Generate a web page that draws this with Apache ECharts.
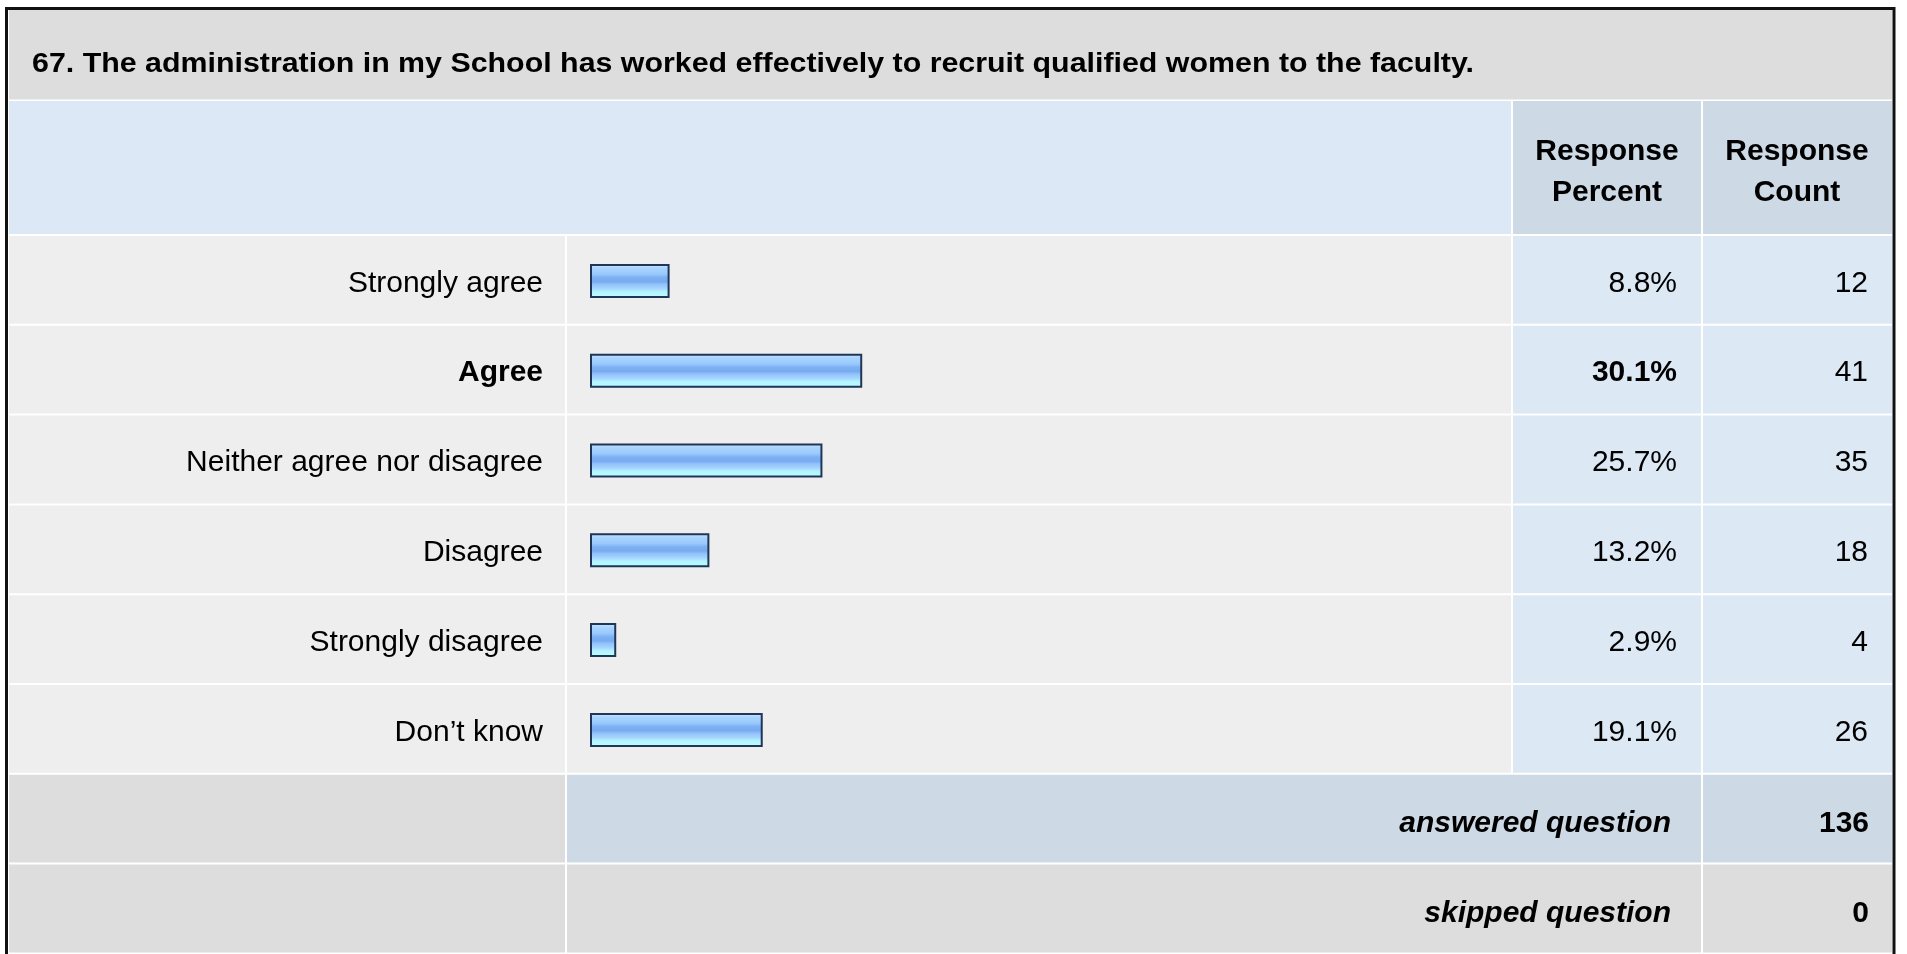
<!DOCTYPE html>
<html>
<head>
<meta charset="utf-8">
<style>
  html, body { margin: 0; padding: 0; background: #ffffff; }
  #chart { width: 1907px; height: 954px; }
</style>
<script src="https://cdn.jsdelivr.net/npm/echarts@6/dist/echarts.min.js"></script>
</head>
<body>
<div id="chart"></div>
<script>
// ---- data ----
const titleText = '67. The administration in my School has worked effectively to recruit qualified women to the faculty.';
const categories = ['Strongly agree', 'Agree', 'Neither agree nor disagree', 'Disagree', 'Strongly disagree', 'Don\u2019t know'];
const percents = [8.8, 30.1, 25.7, 13.2, 2.9, 19.1];
const counts = [12, 41, 35, 18, 4, 26];
const headerLabels = ['Response\nPercent', 'Response\nCount'];
const totalLabels = ['answered question', 'skipped question'];
const totalValues = [136, 0];

// ---- layout ----
const FONT = '"Liberation Sans", Arial, Helvetica, sans-serif';
const TXT = '#000';
const L = 9, R = 1892;
const colLabelEnd = 566, colBarEnd = 1512, colPctEnd = 1702;
const rowTop = 235, rowH = 89.8;
const nRows = categories.length;
const maxIdx = percents.indexOf(Math.max.apply(null, percents));

function rect(x1, y1, x2, y2, fill, z) {
  return { type: 'rect', z: z || 0, silent: true,
    shape: { x: x1, y: y1, width: x2 - x1, height: y2 - y1 }, style: { fill: fill } };
}
function txt(x, y, text, opt) {
  opt = opt || {};
  return { type: 'text', z: 20, silent: true, x: x, y: y, scaleX: opt.scaleX || 1,
    style: { text: text, x: 0, y: 0, fill: TXT, fontFamily: FONT,
      fontSize: opt.fontSize || 30, fontWeight: opt.fontWeight || 'normal',
      fontStyle: opt.fontStyle || 'normal',
      align: opt.align || 'left', textAlign: opt.align || 'left',
      verticalAlign: 'middle', textVerticalAlign: 'middle',
      lineHeight: opt.lineHeight || undefined } };
}

const g = [];
// title band
g.push(rect(L, 10, R, 99.5, '#dddddd'));
// header band
g.push(rect(L, 101, colBarEnd - 1, rowTop - 1, '#dce8f5'));
g.push(rect(colBarEnd + 1, 101, colPctEnd - 1, rowTop - 1, '#cdd9e5'));
g.push(rect(colPctEnd + 1, 101, R, rowTop - 1, '#cdd9e5'));
// data rows
for (let i = 0; i < nRows; i++) {
  const y1 = rowTop + i * rowH + 1, y2 = rowTop + (i + 1) * rowH - 1;
  g.push(rect(L, y1, colLabelEnd - 1, y2, '#eeeeee'));
  g.push(rect(colLabelEnd + 1, y1, colBarEnd - 1, y2, '#eeeeee'));
  g.push(rect(colBarEnd + 1, y1, colPctEnd - 1, y2, '#dde8f5'));
  g.push(rect(colPctEnd + 1, y1, R, y2, '#dde8f5'));
}
// totals rows
const totColors = [['#dddddd', '#cdd9e5', '#cdd9e5'], ['#dddddd', '#dddddd', '#dddddd']];
for (let j = 0; j < 2; j++) {
  const y1 = rowTop + (nRows + j) * rowH + 1, y2 = rowTop + (nRows + j + 1) * rowH - 1;
  g.push(rect(L, y1, colLabelEnd - 1, y2, totColors[j][0]));
  g.push(rect(colLabelEnd + 1, y1, colPctEnd - 1, y2, totColors[j][1]));
  g.push(rect(colPctEnd + 1, y1, R, y2, totColors[j][2]));
  const cy = (y1 + y2) / 2 + 5;
  g.push(txt(1671, cy, totalLabels[j], { align: 'right', fontWeight: 'bold', fontStyle: 'italic' }));
  g.push(txt(1869, cy, String(totalValues[j]), { align: 'right', fontWeight: 'bold' }));
}
// outer border
g.push({ type: 'rect', z: 30, silent: true, shape: { x: 6.5, y: 8.5, width: 1887.5, height: 960 },
  style: { fill: null, stroke: '#111', lineWidth: 3 } });

// title text, stretched to the reference width
const cv = document.createElement('canvas').getContext('2d');
cv.font = 'bold 28px ' + FONT;
const natW = cv.measureText(titleText).width;
const titleScale = 1442 / natW;
g.push(txt(32, 64, titleText, { fontSize: 28, fontWeight: 'bold', scaleX: titleScale }));
// header texts
g.push(txt((colBarEnd + colPctEnd) / 2, 172, headerLabels[0], { align: 'center', fontWeight: 'bold', lineHeight: 41 }));
g.push(txt((colPctEnd + R) / 2, 172, headerLabels[1], { align: 'center', fontWeight: 'bold', lineHeight: 41 }));

const gridLeft = 590, gridW = 904.4;
const boldRich = { b: { fontFamily: FONT, fontSize: 30, fontWeight: 'bold', color: TXT },
                   n: { fontFamily: FONT, fontSize: 30, fontWeight: 'normal', color: TXT } };
const labelPad = [5, 0, 0, 0];
const wrap = (s, bold) => bold ? '{b|' + s + '}' : '{n|' + s + '}';

const chart = echarts.init(document.getElementById('chart'), null, { renderer: 'canvas' });
chart.setOption({
  animation: false,
  backgroundColor: '#ffffff',
  grid: { left: gridLeft, top: rowTop + 1, width: gridW, height: nRows * rowH, containLabel: false },
  xAxis: { type: 'value', min: 0, max: 100, show: false },
  yAxis: [
    { type: 'category', data: categories, inverse: true, z: 15,
      axisLine: { show: false }, axisTick: { show: false }, splitLine: { show: false },
      axisLabel: { fontFamily: FONT, fontSize: 30, color: TXT, margin: 47, padding: labelPad,
        formatter: (v, i) => wrap(v, i === maxIdx), rich: boldRich } },
    { type: 'category', data: categories, inverse: true, position: 'right', z: 15,
      axisLine: { show: false }, axisTick: { show: false }, splitLine: { show: false },
      axisLabel: { fontFamily: FONT, fontSize: 30, color: TXT, margin: 1677 - (gridLeft + gridW), align: 'right', padding: labelPad,
        formatter: (v, i) => wrap(percents[i].toFixed(1) + '%', i === maxIdx), rich: boldRich } },
    { type: 'category', data: categories, inverse: true, position: 'right', z: 15,
      axisLine: { show: false }, axisTick: { show: false }, splitLine: { show: false },
      axisLabel: { fontFamily: FONT, fontSize: 30, color: TXT, margin: 1868 - (gridLeft + gridW), align: 'right', padding: labelPad,
        formatter: (v, i) => wrap(String(counts[i]), false), rich: boldRich } }
  ],
  graphic: { elements: g },
  series: [{
    type: 'bar', data: percents, barWidth: 34, z: 10, silent: true,
    itemStyle: {
      borderColor: '#1f3658', borderWidth: 2,
      color: new echarts.graphic.LinearGradient(0, 0, 0, 1, [
        { offset: 0, color: '#d2e8ff' },
        { offset: 0.12, color: '#aad4ff' },
        { offset: 0.3, color: '#99c9fd' },
        { offset: 0.4, color: '#7eb1f3' },
        { offset: 0.52, color: '#78aaf0' },
        { offset: 0.6, color: '#92c2fa' },
        { offset: 0.72, color: '#a4d4ff' },
        { offset: 0.82, color: '#b4f4ff' },
        { offset: 1, color: '#b8ffff' }
      ])
    }
  }]
});
</script>
</body>
</html>
